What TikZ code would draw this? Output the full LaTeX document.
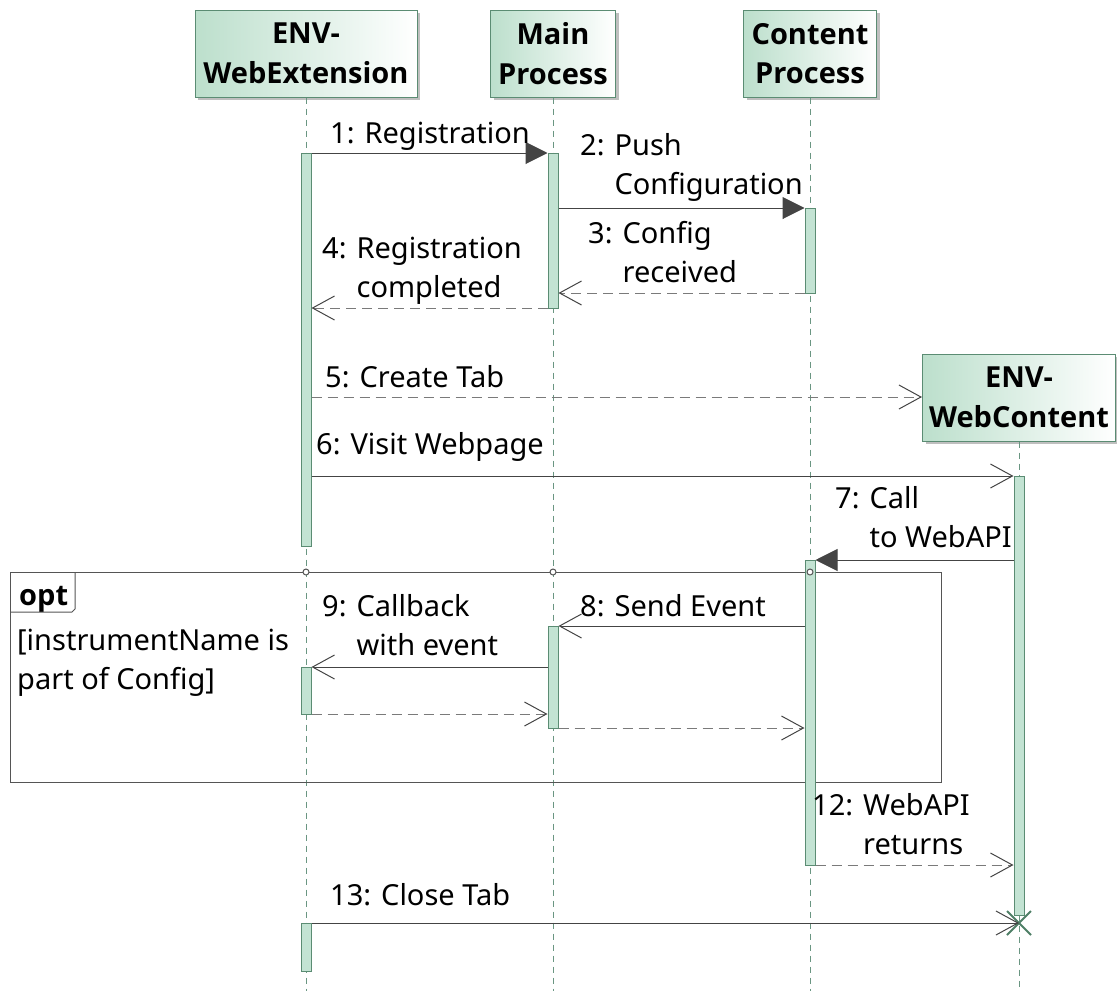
\documentclass[tikz,border=0pt]{standalone}
\usepackage{fontspec}
\setmainfont{Noto Sans}
\newfontfamily\headfont{Open Sans}
\usetikzlibrary{arrows.meta,shadows,shapes.misc}

\definecolor{headfill}{HTML}{BCDFCC}
\definecolor{headline}{HTML}{5B8C73}
\definecolor{barfill}{HTML}{C3E3D3}
\definecolor{barline}{HTML}{5B8C73}
\definecolor{lifegray}{HTML}{6A9682}
\definecolor{msgdark}{HTML}{444444}
\definecolor{msglight}{HTML}{7A7A7A}
\definecolor{framegray}{HTML}{555555}
\definecolor{killgreen}{HTML}{4E7F66}

% number in front, text lines left aligned behind it
\newcommand\seqmsg[2]{#1: \begin{tabular}[t]{@{}l@{}}#2\end{tabular}}

\begin{document}
\begin{tikzpicture}[x=1pt,y=-1pt,
    every node/.style={font=\fontsize{29}{39.5}\selectfont},
    participant/.style={draw=headline, line width=1pt, left color=headfill, right color=white,
        drop shadow={shadow xshift=3pt, shadow yshift=-3pt, fill=black!25, opacity=1},
        align=center, inner sep=0pt, minimum height=87pt,
        font=\headfont\fontsize{29}{39.5}\selectfont\bfseries},
    lifeline/.style={draw=lifegray, line width=1pt, dash pattern=on 6pt off 5pt},
    activation/.style={draw=barline, fill=barfill, line width=1pt, anchor=north,
        minimum width=10pt, inner sep=0pt},
    call/.style={draw=msgdark, line width=1pt, -{Triangle[length=22pt,width=22pt]}, fill=msgdark},
    async/.style={draw=msgdark, line width=1pt, -{Straight Barb[length=22pt,width=24pt]}},
    reply/.style={draw=msglight, line width=1pt, dash pattern=on 10pt off 6pt,
        -{Straight Barb[length=22pt,width=24pt,color=msgdark]}},
    lbl/.style={anchor=base west, inner sep=0pt},
    frame/.style={draw=framegray, line width=1pt}]

    \useasboundingbox (0,0) rectangle (1117,991);
    \coordinate (bottom) at (0,991);
    \coordinate (frametop) at (0,572);

    % participants
    \node[participant, minimum width=222pt] (ext) at (306,53.5) {ENV-\\WebExtension};
    \node[participant, minimum width=125pt] (main) at (553,53.5) {Main\\Process};
    \node[participant, minimum width=133pt] (cont) at (810,53.5) {Content\\Process};
    \node[participant, minimum width=193pt] (wc) at (1019,397.5) {ENV-\\WebContent};

    \foreach \p in {ext,main,cont,wc}
        \draw[lifeline] (\p.south) -- (\p.south |- bottom);

    % opt fragment
    \draw[frame] (10,572) rectangle (941,782);
    \node[lbl, font=\headfont\fontsize{29}{39.5}\selectfont\bfseries] (opt) at (19,605) {opt};
    \draw[frame] (10,612) -- (72,612) -- (75,609) -- (75,572);
    \node[lbl] (guard) at (17,650)
        {\begin{tabular}[t]{@{}l@{}}[instrumentName is\\part of Config]\end{tabular}};

    % message rows
    \coordinate (r1) at (0,153);
    \coordinate (r2) at (0,208);
    \coordinate (r3) at (0,293);
    \coordinate (r4) at (0,308);
    \coordinate (r5) at (0,397);
    \coordinate (r6) at (0,476);
    \coordinate (r7) at (0,560);
    \coordinate (r8) at (0,626);
    \coordinate (r9) at (0,667);
    \coordinate (r10) at (0,714);
    \coordinate (r11) at (0,728);
    \coordinate (r12) at (0,865);
    \coordinate (r13) at (0,923);

    % activations
    \node[activation, minimum height=393pt] (ext1) at (ext |- r1) {};
    \node[activation, minimum height=155pt] (main1) at (main |- r1) {};
    \node[activation, minimum height=85pt] (cont1) at (cont |- r2) {};
    \node[activation, minimum height=439pt] (wc1) at (wc |- r6) {};
    \node[activation, minimum height=305pt] (cont2) at (cont |- r7) {};
    \node[activation, minimum height=102pt] (main2) at (main |- r8) {};
    \node[activation, minimum height=47pt] (ext2) at (ext |- r9) {};
    \node[activation, minimum height=48pt] (ext3) at (ext |- r13) {};
    \node[cross out, draw=killgreen, line width=2pt, minimum size=22pt, inner sep=0pt] (wcx) at (wc |- r13) {};

    \foreach \p in {ext,main,cont}
        \draw[frame, fill=white] (\p |- frametop) circle (3pt);

    % messages
    \draw[call] (ext1.east |- r1) -- (main1.west |- r1);
    \draw[call] (main1.east |- r2) -- (cont1.west |- r2);
    \draw[reply] (cont1.west |- r3) -- (main1.east |- r3);
    \draw[reply] (main1.west |- r4) -- (ext1.east |- r4);
    \draw[reply] (ext1.east |- r5) -- (wc.west |- r5);
    \draw[async] (ext1.east |- r6) -- (wc1.west |- r6);
    \draw[call] (wc1.west |- r7) -- (cont2.east |- r7);
    \draw[async] (cont2.west |- r8) -- (main2.east |- r8);
    \draw[async] (main2.west |- r9) -- (ext2.east |- r9);
    \draw[reply] (ext2.east |- r10) -- (main2.west |- r10);
    \draw[reply] (main2.east |- r11) -- (cont2.west |- r11);
    \draw[reply] (cont2.east |- r12) -- (wc1.west |- r12);
    \draw[async] (ext3.east |- r13) -- (wcx.center);

    % message labels
    \node[lbl] (m1) at (330,143) {1: Registration};
    \node[lbl] (m2) at (580,155) {\seqmsg{2}{Push\\Configuration}};
    \node[lbl] (m3) at (588,243) {\seqmsg{3}{Config\\received}};
    \node[lbl] (m4) at (322,258) {\seqmsg{4}{Registration\\completed}};
    \node[lbl] (m5) at (325,387) {5: Create Tab};
    \node[lbl] (m6) at (316,454) {6: Visit Webpage};
    \node[lbl] (m7) at (835,508) {\seqmsg{7}{Call\\to WebAPI}};
    \node[lbl] (m8) at (580,616) {8: Send Event};
    \node[lbl] (m9) at (322,616) {\seqmsg{9}{Callback\\with event}};
    \node[lbl] (m12) at (812,815) {\seqmsg{12}{WebAPI\\returns}};
    \node[lbl] (m13) at (330,905) {13: Close Tab};
\end{tikzpicture}
\end{document}
